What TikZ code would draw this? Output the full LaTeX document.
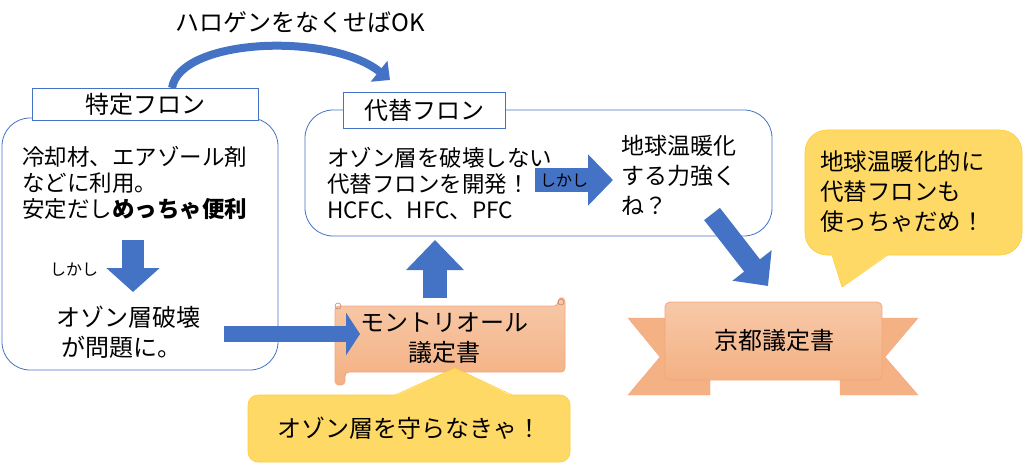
\documentclass[tikz,border=0pt]{standalone}
\usepackage{fontspec}
\setmainfont{Noto Sans CJK JP}
\usetikzlibrary{arrows.meta}
\definecolor{bl}{HTML}{4472C4}
\definecolor{sal}{HTML}{F4B183}
\definecolor{salb}{HTML}{F4A57E}
\definecolor{yel}{HTML}{FFD966}
\definecolor{yelb}{HTML}{FFC000}
\begin{document}
\begin{tikzpicture}[x=1pt,y=-1pt,
  box/.style={draw=bl,line width=0.8pt,rounded corners=28pt},
  lab/.style={draw=bl,fill=white,line width=0.8pt,inner sep=0pt},
  t/.style={font=\fontsize{22.5}{26}\selectfont,inner sep=0pt,anchor=west,align=left},
  tc/.style={font=\fontsize{24}{30}\selectfont,inner sep=0pt,align=center},
  barr/.style={draw=bl,line width=#1},
  call/.style={fill=yel,draw=yelb!80,line width=0.6pt}]
\useasboundingbox (0,0) rectangle (1024,465);
% left box
\draw[box] (2,118) rectangle (278,370);
\node[lab,minimum width=226pt,minimum height=32pt,anchor=north west,font=\fontsize{24}{26}\selectfont] (l1) at (32,88) {特定フロン};
\node[t] (lt) at (22,183) {冷却材、エアゾール剤\\などに利用。\\安定だし\textbf{めっちゃ便利}};
\coordinate (da1) at (133,240); \coordinate (da2) at (133,292);
\draw[barr=22pt,-{Triangle[length=24pt,width=52pt]}] (da1) -- (da2);
\node[t,font=\fontsize{16}{18}\selectfont] (sk1) at (50,270) {しかし};
\node[t,font=\fontsize{24}{30}\selectfont] (oz) at (56,332) {オゾン層破壊\\\ が問題に。};
% middle box
\draw[box] (305,110) rectangle (772,236);
\node[lab,minimum width=162pt,minimum height=36pt,anchor=north west,font=\fontsize{24}{26}\selectfont] (l2) at (343,92) {代替フロン};
\node[t] (mt) at (327,184) {オゾン層を破壊しない\\代替フロンを開発！\\HCFC、HFC、PFC};
\coordinate (ra1) at (535,180); \coordinate (ra2) at (613,180);
\draw[barr=24pt,-{Triangle[length=25pt,width=50pt]}] (ra1) -- (ra2);
\node[t,font=\fontsize{16}{18}\selectfont] (sk2) at (540,181) {しかし};
\node[t,font=\fontsize{23}{30}\selectfont] (gw) at (621,175) {地球温暖化\\する力強く\\ね？};
% up arrow
\coordinate (ua1) at (435,298); \coordinate (ua2) at (435,240);
\draw[barr=24pt,-{Triangle[length=30pt,width=56pt]}] (ua1) -- (ua2);
% diagonal arrow
\coordinate (d1) at (712,214);
\coordinate (d2) at (768,286);
\draw[barr=20pt,-{Triangle[length=26pt,width=48pt]}] (d1) -- (d2);
% curved arrow
\coordinate (c1) at (172,88);
\coordinate (c2) at (390,80);
\draw[barr=8pt,-{Triangle[length=14pt,width=26pt]}] (c1) .. controls (180,38) and (330,32) .. (c2);
\node[tc] (tt) at (300,22) {ハロゲンをなくせばOK};
% scroll
\shade[top color=sal!70,bottom color=sal,draw=salb,line width=0.8pt,rounded corners=4pt]
  (335,306) -- (558,306) -- (558,298) -- (565,298) -- (565,372) -- (345,372) -- (345,385) -- (335,385) -- cycle;
\draw[salb!80!black,line width=0.6pt] (338,306) circle (3pt) (561,302) circle (3pt);
% right arrow to scroll
\coordinate (rb1) at (224,334); \coordinate (rb2) at (360,334);
\draw[barr=16pt,-{Triangle[length=14pt,width=42pt]}] (rb1) -- (rb2);
\node[tc] (mo) at (444,338) {モントリオール\\議定書};
% bottom callout
\draw[call,rounded corners=10pt] (248,395) rectangle (570,462);
\fill[yel] (395,396) -- (455,368) -- (512,396) -- cycle;
\draw[yelb!80,line width=0.6pt] (395,395) -- (455,368) -- (512,395);
\node[tc] (cb) at (409,428) {オゾン層を守らなきゃ！};
% ribbon
\fill[salb!90!black] (665,380) -- (710,380) -- (710,395) -- (665,395) -- cycle;
\fill[salb!90!black] (840,380) -- (882,380) -- (882,395) -- (840,395) -- cycle;
\draw[fill=sal,draw=salb] (710,318) -- (628,318) -- (660,357) -- (628,395) -- (710,395) -- (710,380);
\draw[fill=sal,draw=salb] (840,318) -- (918,318) -- (885,357) -- (918,395) -- (840,395) -- (840,380);
\shade[top color=sal!70,bottom color=sal,draw=salb,line width=0.8pt,rounded corners=5pt] (665,302) rectangle (882,380);
\node[tc] (ky) at (774,340) {京都議定書};
% right callout
\draw[call,rounded corners=22pt] (805,130) rectangle (1022,255);
\fill[yel] (832,254) -- (842,287) -- (888,254) -- cycle;
\draw[yelb!80,line width=0.6pt] (832,255) -- (842,287) -- (888,255);
\node[t,font=\fontsize{23.5}{30}\selectfont] (rc) at (820,192) {地球温暖化的に\\代替フロンも\\使っちゃだめ！};
\end{tikzpicture}
\end{document}
